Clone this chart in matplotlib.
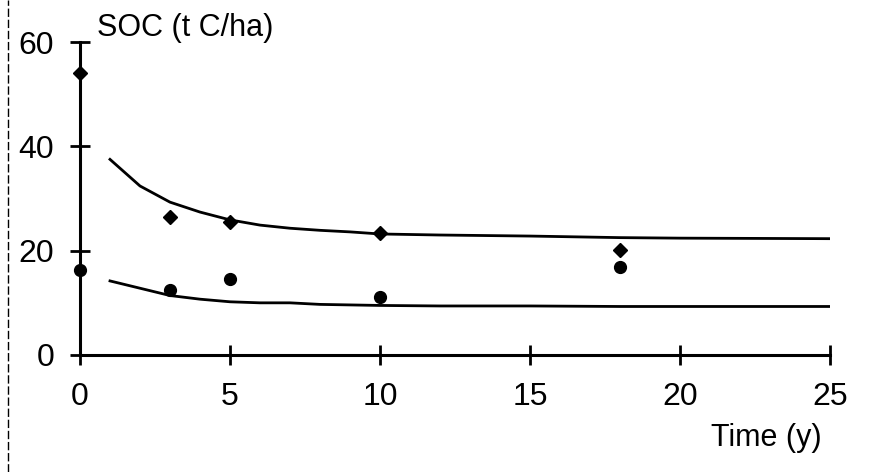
import matplotlib
matplotlib.use("Agg")
import matplotlib.pyplot as plt
from matplotlib.lines import Line2D

plt.rcParams['font.family'] = ['Liberation Sans', 'DejaVu Sans']

# Observed data
obs_time = [0, 3, 5, 10, 18]
soc_upper_obs = [54.0, 26.5, 25.5, 23.3, 20.1]
soc_lower_obs = [16.3, 12.5, 14.6, 11.1, 16.9]

# Modelled curves
model_time = [1, 2, 3, 4, 5, 6, 7, 8, 9, 10, 12, 15, 18, 20, 25]
soc_upper_model = [37.5, 32.4, 29.3, 27.4, 25.9, 24.9, 24.3, 23.9, 23.6, 23.2, 23.0, 22.8, 22.5, 22.4, 22.3]
soc_lower_model = [14.2, 12.8, 11.4, 10.7, 10.2, 10.0, 10.0, 9.7, 9.6, 9.5, 9.4, 9.4, 9.3, 9.3, 9.3]

x_ticks = [0, 5, 10, 15, 20, 25]
y_ticks = [0, 20, 40, 60]

fig = plt.figure(figsize=(8.8, 4.72), dpi=100)
ax = fig.add_axes([80/880, 1-355/472, 750/880, 313/472])

ax.plot(model_time, soc_upper_model, color='black', lw=2)
ax.plot(model_time, soc_lower_model, color='black', lw=2)
ax.plot(obs_time, soc_upper_obs, linestyle='none', marker='D', color='black', markersize=7.5, clip_on=False)
ax.plot(obs_time, soc_lower_obs, linestyle='none', marker='o', color='black', markersize=8.5, clip_on=False)

ax.set_xlim(0, 25)
ax.set_ylim(0, 60)
ax.set_xticks(x_ticks)
ax.set_yticks(y_ticks)
for s in ['top', 'right']:
    ax.spines[s].set_visible(False)
for s in ['left', 'bottom']:
    ax.spines[s].set_linewidth(2.2)
ax.tick_params(direction='inout', length=15, width=2, labelsize=23)
ax.tick_params(axis='y', pad=11)
ax.tick_params(axis='x', pad=12)

ax.text(97/880, 1-28/472, 'SOC (t C/ha)', transform=fig.transFigure, fontsize=22, ha='left', va='center')
ax.text(822/880, 1-438/472, 'Time (y)', transform=fig.transFigure, fontsize=22, ha='right', va='center')

# scanned frame edge on the left
fig.add_artist(Line2D([8/880, 8/880], [0.0, 1.0], transform=fig.transFigure, color='black', lw=1, linestyle=(0, (6, 2))))

fig.savefig('out.png', dpi=100)
